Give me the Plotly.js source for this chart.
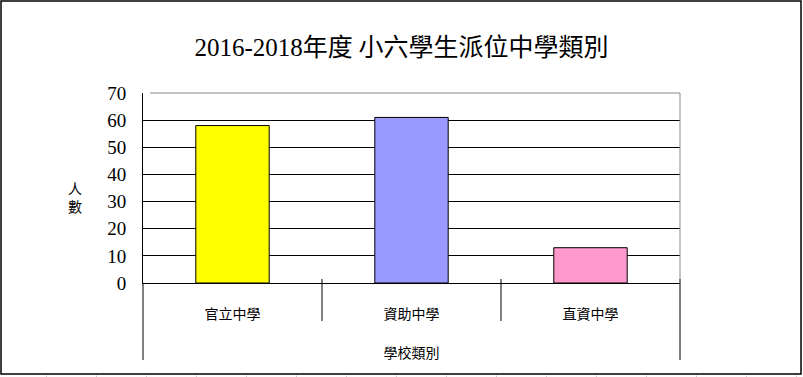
<!DOCTYPE html>
<html>
<head>
<meta charset="utf-8">
<script src="https://cdn.plot.ly/plotly-3.0.1.min.js"></script>
<style>html,body{margin:0;padding:0;background:#fff;}#chart{width:803px;height:377px;}</style>
</head>
<body>
<div id="chart"></div>
<script>
const categories = ["官立中學", "資助中學", "直資中學"];
const values = [58, 61, 13];
const barColors = ["#FFFF00", "#9999FF", "#FF99CC"];
const yTicks = [0, 10, 20, 30, 40, 50, 60, 70];
const titleYears = "2016-2018";
const titleRest = "年度 小六學生派位中學類別";
const xTitle = "學校類別";
const yTitle = "人<br>數";

const serif = "'Liberation Serif', 'Times New Roman', Times, serif";
const cjk = "Noto Sans CJK TC";
const sans = "Noto Sans CJK TC, DejaVu Sans, sans-serif";

const L = 143, R = 680, T = 93, B = 283, W = 803, H = 377;
const pw = R - L, ph = B - T;
const px = x => (x - L) / pw;
const py = y => (B - y) / ph;

const shapes = [
  {type: "rect", xref: "paper", yref: "paper", x0: px(1), x1: px(801), y0: py(374), y1: py(1),
   line: {color: "#000", width: 1.5}},
  {type: "line", xref: "paper", yref: "paper", x0: px(150), x1: 1, y0: 1, y1: 1, line: {color: "#888", width: 1}},
  {type: "line", xref: "paper", yref: "paper", x0: 1, x1: 1, y0: py(279), y1: 1, line: {color: "#888", width: 1}},
  {type: "line", xref: "paper", yref: "paper", x0: 0, x1: 0, y0: py(360), y1: 0, line: {color: "#000", width: 1}},
  {type: "line", xref: "paper", yref: "paper", x0: 1, x1: 1, y0: py(360), y1: py(279), line: {color: "#000", width: 1}},
  {type: "line", xref: "paper", yref: "paper", x0: 1/3, x1: 1/3, y0: py(321), y1: py(279), line: {color: "#000", width: 1}},
  {type: "line", xref: "paper", yref: "paper", x0: 2/3, x1: 2/3, y0: py(321), y1: py(279), line: {color: "#000", width: 1}}
];
for (let k = 0; k < 16; k++) {
  const gx = 46.5 + 50 * k;
  shapes.push({type: "line", xref: "paper", yref: "paper", x0: px(gx), x1: px(gx), y0: py(377), y1: py(375.5),
               line: {color: "#ccc", width: 1}});
}

const data = [{
  type: "bar",
  x: categories,
  y: values,
  marker: {color: barColors, line: {color: "#000", width: 1}},
  hoverinfo: "x+y"
}];

const layout = {
  width: W, height: H,
  margin: {l: L, r: W - R, t: T, b: H - B, pad: 0},
  paper_bgcolor: "#fff", plot_bgcolor: "#fff",
  showlegend: false,
  bargap: 0.59,
  title: {text: titleYears + '<span style="font-family:' + cjk + '">' + titleRest + '</span>',
          font: {family: serif, size: 25, color: "#000"},
          x: 0.5, xanchor: "center", y: 1 - 47 / H, yanchor: "middle"},
  xaxis: {
    type: "category",
    showgrid: false, zeroline: false, showline: true, linecolor: "#000", linewidth: 1,
    ticks: "", tickfont: {family: sans, size: 14, color: "#000"},
    ticklabelstandoff: 18,
    title: {text: xTitle, font: {family: sans, size: 14, color: "#000"}, standoff: 26},
    fixedrange: true
  },
  yaxis: {
    range: [0, 70], tickvals: yTicks, ticktext: yTicks.map(String),
    showgrid: true, gridcolor: "#000", gridwidth: 1,
    zeroline: true, zerolinecolor: "#000", zerolinewidth: 1,
    showline: true, linecolor: "#000", linewidth: 1,
    ticks: "inside", ticklen: 7, tickcolor: "#000", tickwidth: 1,
    tickfont: {family: serif, size: 19, color: "#000"},
    ticklabelstandoff: 12,
    fixedrange: true
  },
  shapes: shapes,
  annotations: [{
    text: yTitle, xref: "paper", yref: "paper", x: px(75), y: py(197),
    xanchor: "center", yanchor: "middle", showarrow: false,
    font: {family: sans, size: 14, color: "#000"}
  }]
};

Plotly.newPlot("chart", data, layout, {displayModeBar: false, staticPlot: true});
</script>
</body>
</html>
